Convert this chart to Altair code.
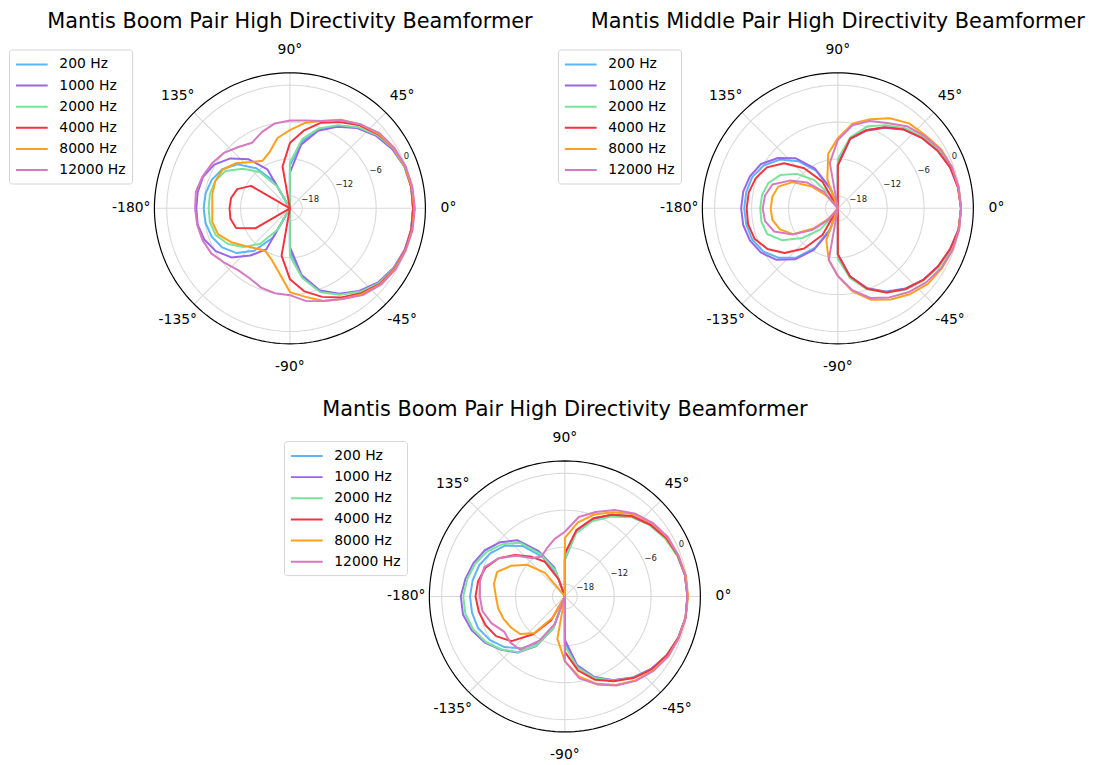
import altair as alt
import pandas as pd

# ---------------- data ----------------
ANGLES = list(range(0, 360, 10))
FREQS = ["200 Hz", "1000 Hz", "2000 Hz", "4000 Hz", "8000 Hz", "12000 Hz"]
COLORS = ["#5bb5f7", "#9966e8", "#78e39a", "#f5333f", "#ffa01c", "#d779c0"]

TITLE_BOOM = "Mantis Boom Pair High Directivity Beamformer"
TITLE_MIDDLE = "Mantis Middle Pair High Directivity Beamformer"

R_MIN, R_MAX = -20, 2
RINGS = [-18, -12, -6, 0]
RING_LABELS = ["\u221218", "\u221212", "\u22126", "0"]
SPOKES = [0, 45, 90, 135, 180, 225, 270, 315]
SPOKE_LABELS = ["0°", "45°", "90°", "135°", "-180°", "-135°", "-90°", "-45°"]

# Plot 1: Boom pair
BOOM_200 = [0, 0, -0.2, -0.7, -1.6, -2.9, -4.5, -6.4, -9.0, -13.0, -20, -20, -15.0, -11.5, -8.9, -7.3, -6.5, -6.1,
            -6.0, -6.1, -6.5, -7.3, -8.7, -11.0, -14.5, -20, -20, -13.0, -8.7, -5.8, -3.9, -2.4, -1.2, -0.5, -0.1, 0]
BOOM_1000 = [0, 0, -0.2, -0.8, -1.7, -3.0, -4.7, -6.6, -9.5, -14.2, -20, -20, -12.7, -9.6, -7.4, -5.8, -5.0, -4.8,
             -4.8, -4.8, -5.2, -6.1, -7.6, -10.0, -12.3, -20, -20, -13.7, -9.0, -5.8, -4.0, -2.5, -1.3, -0.6, -0.2, 0]
BOOM_2000 = [0, 0, -0.2, -0.6, -1.5, -2.8, -4.4, -6.2, -8.6, -12.6, -20, -20, -15.9, -12.3, -10.0, -7.9, -7.1, -6.8,
             -6.8, -6.8, -7.2, -8.4, -10.2, -12.5, -16.0, -20, -20, -12.3, -8.5, -5.5, -3.8, -2.3, -1.1, -0.5, -0.1, 0]
BOOM_4000 = [0, 0, -0.1, -0.5, -1.3, -2.4, -3.8, -5.2, -7.2, -9.4, -13.1, -20, -20, -20, -20, -12.7, -10.9, -10.3,
             -10.2, -10.2, -10.7, -13.5, -20, -20, -20, -20, -12.2, -8.5, -6.3, -4.7, -3.3, -2.0, -0.9, -0.4, -0.1, 0]
BOOM_8000 = [0.2, 0.1, -0.1, -0.5, -1.2, -2.2, -3.4, -4.9, -5.9, -7.3, -8.4, -10.3, -11.1, -10.2, -8.6, -7.4, -7.1, -7.2,
             -7.4, -7.2, -7.6, -9.0, -10.5, -11.5, -12.0, -11.2, -9.5, -6.4, -5.4, -4.0, -3.0, -1.8, -0.8, -0.3, 0, 0.2]
BOOM_12000 = [0.3, 0.2, 0, -0.4, -1.0, -2.2, -3.5, -4.9, -5.5, -5.75, -6.0, -6.8, -7.7, -7.0, -6.0, -5.4, -4.9, -4.5,
              -4.6, -4.7, -4.9, -5.3, -6.2, -6.9, -6.9, -6.3, -6.0, -5.9, -4.7, -4.0, -3.0, -1.6, -0.7, -0.2, 0, 0.2]

# Plot 2: Middle pair
MIDDLE_200 = [0, -0.1, -0.5, -1.2, -2.1, -3.2, -4.8, -6.5, -8.5, -12.5, -20, -17, -13, -10, -7.7, -6.1, -5.2, -4.9,
              -4.8, -4.9, -5.2, -6.0, -7.5, -9.6, -12.6, -16.5, -20, -12.5, -8.8, -6.2, -4.4, -3.0, -1.9, -1.1, -0.5, -0.1]
MIDDLE_1000 = [0, -0.2, -0.6, -1.3, -2.2, -3.3, -4.9, -6.6, -8.6, -13.0, -20, -16.5, -12.5, -9.4, -7.3, -5.6, -4.8, -4.4,
               -4.3, -4.4, -4.8, -5.6, -7.0, -9.2, -12.2, -16.0, -20, -12.5, -8.8, -6.2, -4.3, -2.9, -1.9, -1.2, -0.6, -0.1]
MIDDLE_2000 = [0, -0.1, -0.5, -1.1, -2.0, -3.0, -4.4, -5.8, -8.3, -12.0, -20, -20, -17.5, -14.0, -11.3, -9.2, -8.0, -7.5,
               -7.4, -7.4, -7.8, -9.6, -12.5, -15.5, -18.5, -20, -20, -11.8, -8.5, -6.0, -4.2, -2.8, -1.8, -1.0, -0.4, -0.1]
MIDDLE_4000 = [0, -0.2, -0.6, -1.3, -2.2, -3.3, -4.8, -6.5, -8.5, -13.0, -20, -20, -15.0, -11.5, -8.6, -6.7, -5.8, -5.3,
               -5.2, -5.2, -5.6, -6.8, -8.7, -11.5, -15.0, -20, -20, -12.5, -8.8, -6.1, -4.2, -2.9, -1.9, -1.2, -0.6, -0.1]
MIDDLE_8000 = [0, -0.1, -0.3, -0.7, -1.5, -2.0, -3.1, -4.6, -6.0, -8.6, -11.0, -15.0, -20, -17.5, -14.5, -11.5, -9.7, -9.2,
               -9.1, -9.2, -10.0, -11.6, -15.0, -18.0, -20, -14.5, -11.5, -9.0, -6.3, -4.2, -2.9, -1.8, -0.9, -0.5, -0.2, 0]
MIDDLE_12000 = [0, -0.1, -0.3, -0.8, -1.7, -2.6, -4.0, -4.9, -6.3, -8.9, -12.5, -20, -20, -16.5, -13.5, -11.0, -8.7, -8.0,
                -7.8, -8.0, -9.0, -11.5, -14.5, -17.5, -20, -20, -11.5, -9.0, -6.5, -4.5, -3.3, -2.2, -1.3, -0.6, -0.2, 0]

# Plot 3: Boom pair (second run)
BOOM2_200 = [-0.1, -0.1, -0.5, -1.0, -1.8, -3.0, -4.7, -6.6, -9.2, -14.0, -20, -16.0, -12.5, -9.3, -7.2, -6.0, -5.2, -4.8,
             -4.6, -4.7, -5.0, -5.9, -7.2, -9.0, -11.3, -14.8, -20, -12.5, -8.5, -6.0, -4.3, -2.8, -1.7, -0.9, -0.4, -0.1]
BOOM2_1000 = [-0.1, -0.1, -0.5, -1.0, -1.8, -3.0, -4.7, -6.6, -9.2, -14.0, -20, -15.0, -11.5, -8.1, -6.3, -5.0, -4.2, -3.6,
              -3.1, -3.2, -3.9, -5.0, -6.5, -8.1, -10.7, -14.5, -20, -13.0, -8.7, -6.1, -4.3, -2.8, -1.7, -0.9, -0.4, -0.1]
BOOM2_2000 = [-0.1, -0.2, -0.6, -1.2, -2.0, -3.2, -5.0, -7.0, -9.6, -14.0, -20, -15.5, -12.0, -8.6, -6.8, -5.4, -4.5, -3.9,
              -3.5, -3.6, -4.2, -5.2, -6.6, -8.2, -10.8, -14.5, -20, -12.0, -8.3, -5.9, -4.2, -2.7, -1.6, -0.9, -0.4, -0.1]
BOOM2_4000 = [-0.1, -0.2, -0.5, -1.0, -1.9, -3.0, -4.7, -6.5, -9.0, -13.0, -20, -17.0, -13.5, -11.6, -9.5, -7.6, -6.3, -5.7,
              -5.5, -5.8, -6.3, -7.1, -8.7, -12.0, -15.5, -20, -20, -11.0, -7.8, -5.6, -4.1, -2.7, -1.6, -0.9, -0.4, -0.1]
BOOM2_8000 = [0, -0.1, -0.4, -0.8, -1.5, -2.6, -4.2, -5.8, -7.8, -10.5, -20, -20, -20, -15.0, -12.0, -10.0, -8.3, -8.3,
              -8.8, -9.0, -9.4, -9.9, -10.5, -12.2, -16.0, -20, -13.0, -9.5, -6.8, -4.9, -3.4, -2.2, -1.3, -0.6, -0.3, -0.1]
BOOM2_12000 = [-0.1, -0.2, -0.4, -0.7, -1.4, -2.4, -3.8, -5.4, -6.9, -9.5, -10.5, -11.6, -12.5, -11.9, -9.7, -7.6, -6.1, -6.0,
               -6.2, -6.4, -7.3, -8.6, -8.4, -8.7, -11.7, -15.3, -20, -9.5, -6.5, -4.8, -3.3, -2.1, -1.2, -0.6, -0.3, -0.1]

PLOTS = [
    (TITLE_BOOM, [BOOM_200, BOOM_1000, BOOM_2000, BOOM_4000, BOOM_8000, BOOM_12000]),
    (TITLE_MIDDLE, [MIDDLE_200, MIDDLE_1000, MIDDLE_2000, MIDDLE_4000, MIDDLE_8000, MIDDLE_12000]),
    (TITLE_BOOM, [BOOM2_200, BOOM2_1000, BOOM2_2000, BOOM2_4000, BOOM2_8000, BOOM2_12000]),
]

# ---------------- layout constants ----------------
FONT = "DejaVu Sans"
PANEL = 320                      # plot-area size of each panel, px
COL_GAP = 552 - PANEL            # gap between the two top panels
ROW_GAP = 391 - PANEL            # gap between rows
SHIFT3 = (PANEL + COL_GAP) / 2 + 1   # bottom polar centre sits between the two columns
RADIUS_PX = 136.5                # outer circle radius, px
UNIT_PX = RADIUS_PX / (R_MAX - R_MIN)
LABEL_R = 25.75                  # radial position of angle labels (units)
GRID = "#d9d9d9"


def polar(chart, r_expr, a_expr):
    return chart.transform_calculate(
        rr=r_expr,
        px=f"datum.rr * cos(({a_expr}) * PI / 180)",
        py=f"datum.rr * sin(({a_expr}) * PI / 180)",
    )


def panel(title, series, shift, lx, ly):
    half = PANEL / 2 / UNIT_PX
    off = shift / UNIT_PX
    xs = alt.Scale(domain=[-half - off, half - off], nice=False, zero=False)
    ys = alt.Scale(domain=[-half, half], nice=False, zero=False)

    rows = []
    for f, vals in zip(FREQS, series):
        for i, a in enumerate(ANGLES + [360]):
            rows.append({"freq": f, "angle": a, "db": vals[i % len(vals)], "idx": i})
    curves_df = pd.DataFrame(rows)

    ring_rows = []
    for lev in RINGS + [R_MAX]:
        for j, a in enumerate(range(0, 361, 2)):
            ring_rows.append({"level": lev, "angle": a, "idx": j, "outer": lev == R_MAX})
    ring_df = pd.DataFrame(ring_rows)

    spoke_df = pd.DataFrame({"angle": SPOKES, "label": SPOKE_LABELS})
    rlab_df = pd.DataFrame({"level": RINGS, "label": RING_LABELS})

    x = alt.X("px:Q", scale=xs, axis=None)
    y = alt.Y("py:Q", scale=ys, axis=None)

    rings = polar(alt.Chart(ring_df).transform_filter("!datum.outer"),
                  f"datum.level - ({R_MIN})", "datum.angle").mark_line(
        color=GRID, strokeWidth=1.1).encode(x=x, y=y, detail="level:N", order="idx:Q")

    outer = polar(alt.Chart(ring_df).transform_filter("datum.outer"),
                  f"datum.level - ({R_MIN})", "datum.angle").mark_line(
        color="black", strokeWidth=1.2).encode(x=x, y=y, detail="level:N", order="idx:Q")

    spokes = polar(alt.Chart(spoke_df), f"{R_MAX} - ({R_MIN})", "datum.angle").transform_calculate(
        zero="0").mark_rule(color=GRID, strokeWidth=1.1).encode(
        x=alt.X("zero:Q", scale=xs, axis=None), y=alt.Y("zero:Q", scale=ys, axis=None),
        x2="px:Q", y2="py:Q")

    angle_labels = polar(alt.Chart(spoke_df), f"{LABEL_R}", "datum.angle").mark_text(
        font=FONT, fontSize=14, color="black", align="center", baseline="middle").encode(
        x=x, y=y, text="label:N")

    r_labels = polar(alt.Chart(rlab_df), f"datum.level - ({R_MIN})", "22.5").mark_text(
        font=FONT, fontSize=8.5, color="#222222", align="left", baseline="bottom").encode(
        x=x, y=y, text="label:N")

    lines = polar(alt.Chart(curves_df), f"max(datum.db - ({R_MIN}), 0)", "datum.angle").mark_line(
        strokeWidth=2, strokeJoin="round").encode(
        x=x, y=y,
        color=alt.Color("freq:N", scale=alt.Scale(domain=FREQS, range=COLORS),
                        legend=alt.Legend(title=None, orient="none", legendX=lx + shift, legendY=ly,
                                          symbolType="M-1,0H3", symbolSize=256, symbolStrokeWidth=2,
                                          symbolOpacity=1, labelFontSize=14, labelFont=FONT,
                                          labelColor="black", labelOffset=26.7, padding=6, rowPadding=5.3,
                                          strokeColor="#d4d4d4", fillColor="white", cornerRadius=3)),
        order="idx:Q")

    return alt.layer(rings, spokes, r_labels, lines, outer, angle_labels).properties(
        width=PANEL, height=PANEL,
        title=alt.TitleParams(title, font=FONT, fontSize=21, fontWeight="normal",
                              color="black", anchor="middle", offset=11, dx=shift))


p1 = panel(PLOTS[0][0], PLOTS[0][1], 0, -123, 0)
p2 = panel(PLOTS[1][0], PLOTS[1][1], 0, -122, 0)
p3 = panel(PLOTS[2][0], PLOTS[2][1], SHIFT3, -123, 3.5)

chart = alt.concat(
    p1, p2, p3, columns=2, spacing={"row": ROW_GAP, "column": COL_GAP}, bounds="flush",
).resolve_scale(color="independent", x="independent", y="independent").resolve_legend(
    color="independent").properties(
    padding={"top": 0, "left": 0, "right": 0, "bottom": 0}).configure(font=FONT).configure_view(strokeWidth=0)

chart.save("out.html", embed_options={"renderer": "svg", "actions": False})
